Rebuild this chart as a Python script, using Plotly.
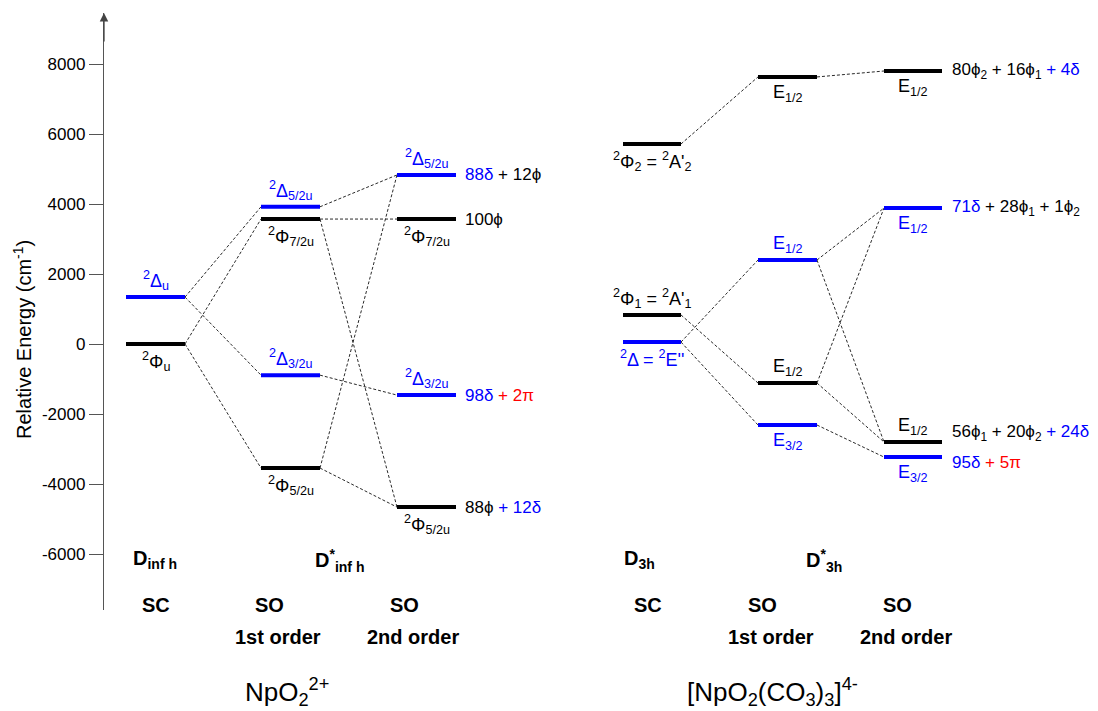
import plotly.graph_objects as go

# ---------------- data ----------------
# NpO2(2+) : SC -> SO 1st order -> SO 2nd order
np_cols = ["sc", "sc", "so1", "so1", "so1", "so1", "so2", "so2", "so2", "so2"]
np_energy = [1340, 0, 3920, 3570, -890, -3545, 4830, 3570, -1460, -4660]
np_char = ["d", "f", "d", "f", "d", "f", "d", "f", "d", "f"]
np_label = [
    "<sup>2</sup>Δ<sub>u</sub>", "<sup>2</sup>Φ<sub>u</sub>",
    "<sup>2</sup>Δ<sub>5/2u</sub>", "<sup>2</sup>Φ<sub>7/2u</sub>",
    "<sup>2</sup>Δ<sub>3/2u</sub>", "<sup>2</sup>Φ<sub>5/2u</sub>",
    "<sup>2</sup>Δ<sub>5/2u</sub>", "<sup>2</sup>Φ<sub>7/2u</sub>",
    "<sup>2</sup>Δ<sub>3/2u</sub>", "<sup>2</sup>Φ<sub>5/2u</sub>",
]
np_label_pos = ["above", "below", "above", "below", "above", "below",
                "above", "below", "above", "below"]
np_links = [(0, 2), (0, 4), (1, 3), (1, 5), (2, 6), (3, 7), (3, 9),
            (4, 8), (5, 6), (5, 9)]
np_comp = {
    6: [("88δ", "d"), (" + 12ϕ", "f")],
    7: [("100ϕ", "f")],
    8: [("98δ", "d"), (" + 2π", "p")],
    9: [("88ϕ", "f"), (" + 12δ", "d")],
}

# [NpO2(CO3)3](4-) : SC -> SO 1st order -> SO 2nd order
cb_cols = ["sc", "sc", "sc", "so1", "so1", "so1", "so1", "so2", "so2", "so2", "so2"]
cb_energy = [5715, 830, 55, 7630, 2400, -1115, -2315, 7800, 3885, -2800, -3230]
cb_char = ["f", "f", "d", "f", "d", "f", "d", "f", "d", "f", "d"]
cb_label = [
    "<sup>2</sup>Φ<sub>2</sub> = <sup>2</sup>A'<sub>2</sub>",
    "<sup>2</sup>Φ<sub>1</sub> = <sup>2</sup>A'<sub>1</sub>",
    "<sup>2</sup>Δ = <sup>2</sup>E''",
    "E<sub>1/2</sub>", "E<sub>1/2</sub>", "E<sub>1/2</sub>", "E<sub>3/2</sub>",
    "E<sub>1/2</sub>", "E<sub>1/2</sub>", "E<sub>1/2</sub>", "E<sub>3/2</sub>",
]
cb_label_pos = ["below", "above", "below", "below", "above", "above", "below",
                "below", "below", "above", "below"]
cb_links = [(0, 3), (1, 5), (2, 4), (2, 6), (3, 7), (4, 8), (4, 9),
            (5, 8), (5, 9), (6, 10)]
cb_comp = {
    7: [("80ϕ<sub>2</sub> + 16ϕ<sub>1</sub>", "f"), (" + 4δ", "d")],
    8: [("71δ", "d"), (" + 28ϕ<sub>1</sub> + 1ϕ<sub>2</sub>", "f")],
    9: [("56ϕ<sub>1</sub> + 20ϕ<sub>2</sub>", "f"), (" + 24δ", "d")],
    10: [("95δ", "d"), (" + 5π", "p")],
}
cb_comp_shift = {9: 9, 10: -5}

y_ticks = [-6000, -4000, -2000, 0, 2000, 4000, 6000, 8000]

# ---------------- layout helpers ----------------
W, H = 1098, 711
ML, MR, MT, MB = 104, 0, 13, 101
Y_RANGE = [-7600, 9457]

np_x = {"sc": (126, 185), "so1": (261, 320), "so2": (397, 456)}
cb_x = {"sc": (623, 681), "so1": (758, 817), "so2": (884, 942)}

COLORS = {"d": "#0000ff", "f": "#000000", "p": "#ff0000"}
FONT = "Liberation Sans, Arial, Helvetica, sans-serif"


def paper_x(px):
    return (px - ML) / (W - ML - MR)


def paper_y(py):
    return (H - MB - py) / (H - MB - MT)


fig = go.Figure()
annotations = []


def add_diagram(cols, energy, char, labels, pos, links, comp, xmap, comp_x,
                comp_shift=None):
    comp_shift = comp_shift or {}
    # dashed correlation lines
    lx, ly = [], []
    for a, b in links:
        lx += [xmap[cols[a]][1], xmap[cols[b]][0], None]
        ly += [energy[a], energy[b], None]
    fig.add_trace(go.Scatter(x=lx, y=ly, mode="lines", hoverinfo="skip",
                             line=dict(color="#2a2a2a", width=1, dash="3px,2px"),
                             showlegend=False))
    # energy levels
    for kind in ("f", "d"):
        xs, ys = [], []
        for c, e, k in zip(cols, energy, char):
            if k == kind:
                xs += [xmap[c][0], xmap[c][1], None]
                ys += [e, e, None]
        fig.add_trace(go.Scatter(x=xs, y=ys, mode="lines", hoverinfo="skip",
                                 line=dict(color=COLORS[kind], width=4),
                                 showlegend=False))
    # state labels
    for i, (c, e, k) in enumerate(zip(cols, energy, char)):
        above = pos[i] == "above"
        annotations.append(dict(
            x=(xmap[c][0] + xmap[c][1]) / 2, y=e, xref="x", yref="y",
            text=labels[i], showarrow=False,
            yanchor="bottom" if above else "top",
            yshift=2 if above else -3,
            font=dict(size=18, color=COLORS[k], family=FONT)))
    # composition of the final states
    for i, parts in comp.items():
        txt = "".join(f'<span style="color:{COLORS[k]}">{t}</span>' for t, k in parts)
        annotations.append(dict(
            x=comp_x, y=energy[i], xref="x", yref="y", text=txt,
            showarrow=False, xanchor="left", yanchor="middle",
            yshift=comp_shift.get(i, 0),
            font=dict(size=17, color="#000000", family=FONT)))


add_diagram(np_cols, np_energy, np_char, np_label, np_label_pos, np_links,
            np_comp, np_x, 463)
add_diagram(cb_cols, cb_energy, cb_char, cb_label, cb_label_pos, cb_links,
            cb_comp, cb_x, 950, cb_comp_shift)

# column headings below the diagrams
bold = dict(size=20, color="#000000", family=FONT)
headings = [
    ("<b>D<sub>inf h</sub></b>", 155, 559),
    ("<b>D<sup>*</sup><sub>inf h</sub></b>", 339, 560),
    ("<b>SC</b>", 156, 605), ("<b>SO</b>", 269, 605), ("<b>SO</b>", 404, 605),
    ("<b>1st order</b>", 278, 637), ("<b>2nd order</b>", 413, 637),
    ("<b>D<sub>3h</sub></b>", 639, 559),
    ("<b>D<sup>*</sup><sub>3h</sub></b>", 824, 560),
    ("<b>SC</b>", 648, 605), ("<b>SO</b>", 762, 605), ("<b>SO</b>", 897, 605),
    ("<b>1st order</b>", 771, 637), ("<b>2nd order</b>", 906, 637),
]
for txt, px, py in headings:
    annotations.append(dict(x=paper_x(px), y=paper_y(py), xref="paper",
                            yref="paper", text=txt, showarrow=False,
                            xanchor="center", yanchor="middle", font=bold))

species = [("NpO<sub>2</sub><sup>2+</sup>", 287, 692),
           ("[NpO<sub>2</sub>(CO<sub>3</sub>)<sub>3</sub>]<sup>4-</sup>", 772, 692)]
for txt, px, py in species:
    annotations.append(dict(x=paper_x(px), y=paper_y(py), xref="paper",
                            yref="paper", text=txt, showarrow=False,
                            xanchor="center", yanchor="middle",
                            font=dict(size=26, color="#000000", family=FONT)))

# axis title and arrow head
annotations.append(dict(x=paper_x(22), y=paper_y(340), xref="paper", yref="paper",
                        text="Relative Energy (cm<sup>-1</sup>)", textangle=-90,
                        showarrow=False, xanchor="center", yanchor="middle",
                        font=dict(size=20, color="#000000", family=FONT)))
annotations.append(dict(x=0, y=1, xref="paper", yref="paper", text="",
                        showarrow=True, ax=0, ay=30, arrowhead=2, arrowsize=1.3,
                        arrowwidth=1.3, arrowcolor="#444444"))

fig.update_layout(
    width=W, height=H,
    margin=dict(l=ML, r=MR, t=MT, b=MB),
    paper_bgcolor="white", plot_bgcolor="white",
    showlegend=False,
    annotations=annotations,
    xaxis=dict(range=[ML, W - MR], visible=False, fixedrange=True),
    yaxis=dict(range=Y_RANGE, showgrid=False, zeroline=False,
               showline=True, linecolor="#555555", linewidth=1.3,
               ticks="outside", ticklen=14, tickcolor="#555555", tickwidth=1.3,
               tickvals=y_ticks, ticktext=[str(v) for v in y_ticks],
               tickfont=dict(size=17, color="#000000", family=FONT),
               fixedrange=True),
)

fig.write_html("out.html")
